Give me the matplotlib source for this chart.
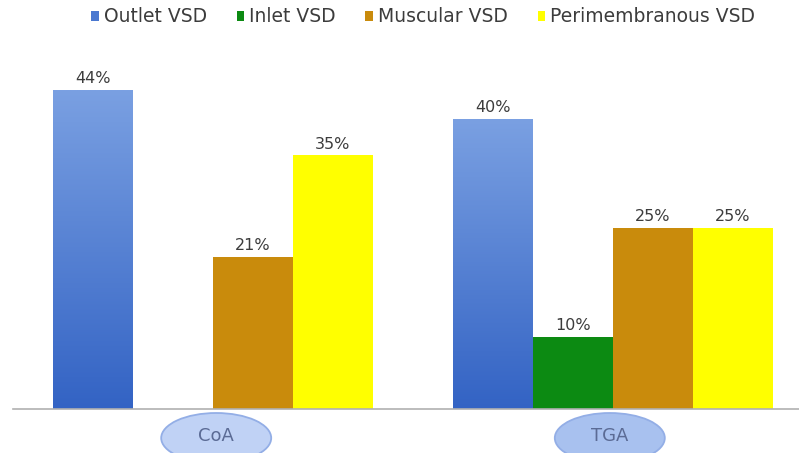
import numpy as np
import matplotlib
matplotlib.use("Agg")
import matplotlib.pyplot as plt
from matplotlib.patches import Ellipse
from matplotlib.colors import LinearSegmentedColormap
import matplotlib.transforms as mtransforms

plt.rcParams['font.family'] = ['DejaVu Sans']

# Data
groups = ["CoA", "TGA"]
series = ["Outlet VSD", "Inlet VSD", "Muscular VSD", "Perimembranous VSD"]
outlet = [44, 40]
inlet = [0, 10]
muscular = [21, 25]
perimembranous = [35, 25]

values = [outlet, inlet, muscular, perimembranous]
colors = ["#4a78d0", "#0c8a12", "#c98b0c", "#ffff00"]
label_color = "#3c3c3c"

W, H = 799, 453
fig = plt.figure(figsize=(W / 100, H / 100), dpi=100)
ax = fig.add_axes([13 / W, 44 / H, 786 / W, 362.5 / H])

bar_w = 0.2
x = np.arange(len(groups))
grad_cmap = LinearSegmentedColormap.from_list("outlet", ["#3363c4", "#7aa0e2"])

for i, (name, vals, col) in enumerate(zip(series, values, colors)):
    pos = x + (i - 1.5) * bar_w
    bars = ax.bar(pos, vals, width=bar_w, color=col, label=name, zorder=2,
                  linewidth=0)
    if i == 0:
        # vertical gradient fill for the outlet bars
        for b in bars:
            b.set_facecolor("none")
            x0, y0 = b.get_x(), b.get_y()
            bw, bh = b.get_width(), b.get_height()
            grad = np.linspace(0, 1, 256).reshape(-1, 1)
            im = ax.imshow(grad, cmap=grad_cmap, origin="lower", aspect="auto",
                           extent=[x0, x0 + bw, y0, y0 + bh], zorder=2)
            im.set_clip_path(b)
    for p, v in zip(pos, vals):
        if v > 0:
            ax.text(p, v + 0.5, f"{v}%", ha="center", va="bottom",
                    fontsize=11.5, color=label_color, zorder=3)

ax.set_xlim(-0.5, -0.5 + 786 / 400)
ax.set_ylim(0, 50)
for s in ["top", "right", "left"]:
    ax.spines[s].set_visible(False)
ax.spines["bottom"].set_color("#b0b0b0")
ax.spines["bottom"].set_linewidth(1.2)
ax.set_xticks([])
ax.set_yticks([])
ax.patch.set_alpha(0)

# Category labels in oval badges below the axis
trans = mtransforms.blended_transform_factory(ax.transData, fig.transFigure)
badge_face = ["#c0d2f5", "#a8c1ef"]
badge_shift = [0.008, -0.008]
for gx, name, fc, dx in zip(x, groups, badge_face, badge_shift):
    e = Ellipse((gx + dx, 1 - 438 / H), 110 / 400, 50 / H, transform=trans,
                facecolor=fc, edgecolor="#93aee6", linewidth=1.3, clip_on=False,
                zorder=1)
    fig.add_artist(e)
    fig.text(gx + dx, 1 - 436 / H, name, transform=trans,
             ha="center", va="center", fontsize=13, color="#5b6b95", zorder=2)

leg = fig.legend(loc="center", bbox_to_anchor=(423 / W, 1 - 17 / H), ncol=4,
                 frameon=False, fontsize=13.5, handlelength=0.4, handleheight=0.4,
                 handletextpad=0.25, columnspacing=1.6, borderaxespad=0)
for t in leg.get_texts():
    t.set_color(label_color)
for h, c in zip(leg.legend_handles, colors):
    h.set_facecolor(c)

fig.savefig("out.png", dpi=100, facecolor="white")
